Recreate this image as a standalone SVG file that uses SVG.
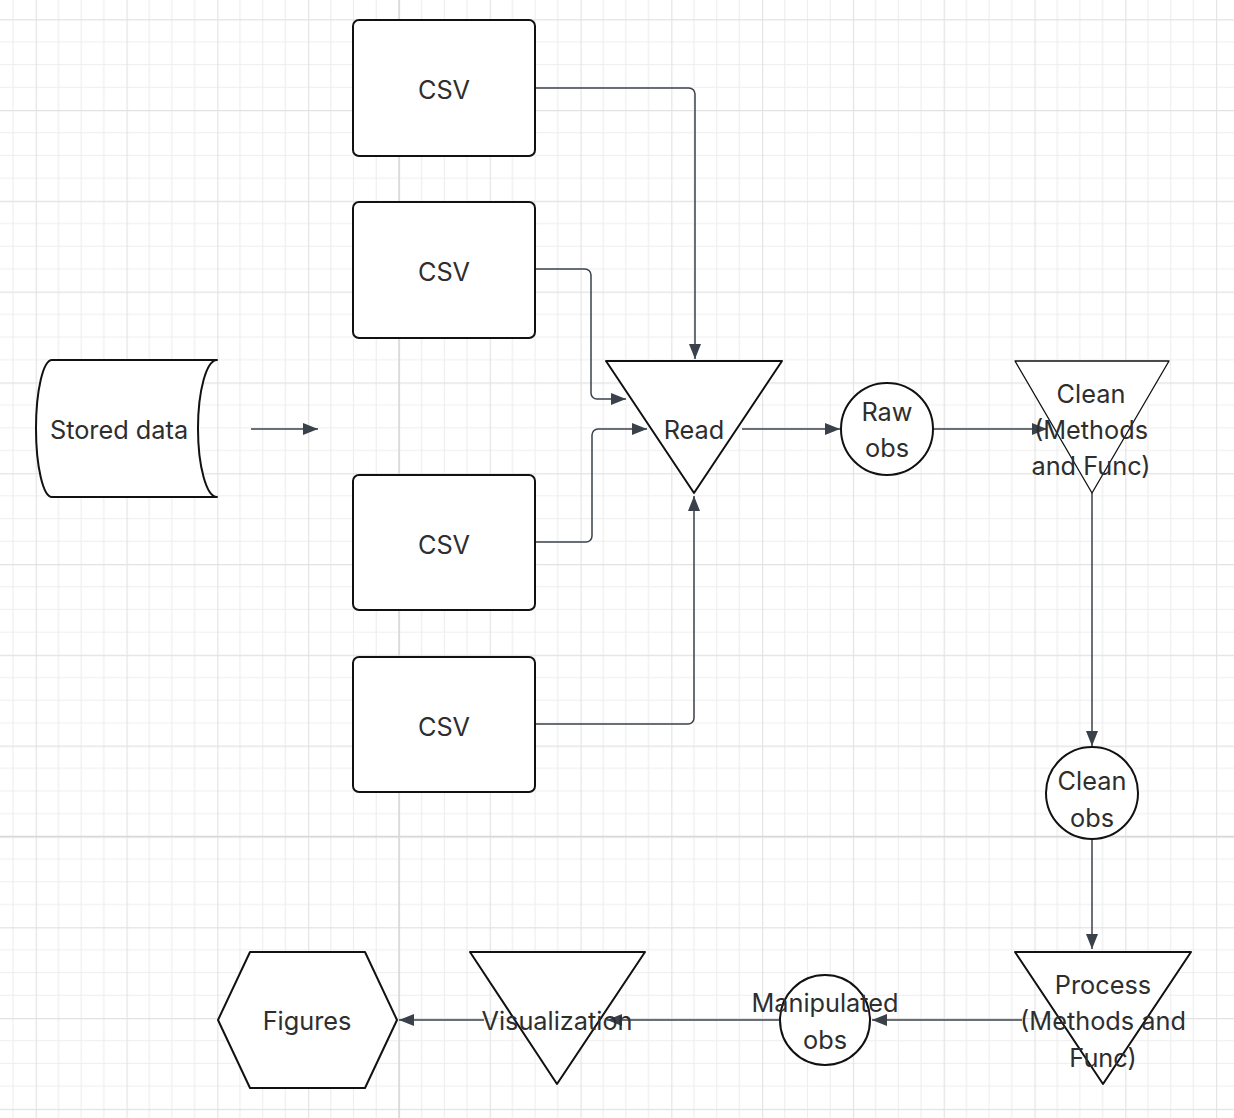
<svg xmlns="http://www.w3.org/2000/svg" width="1234" height="1118" viewBox="0 0 1234 1118">
<style>
.lbl{font-family:Inter,"Liberation Sans",sans-serif;font-size:25.3px;fill:#2e2e2e;text-anchor:middle;dominant-baseline:central}
.shp{fill:#ffffff;stroke:#111111;stroke-width:2;stroke-linejoin:round}
.thin{stroke-width:1.3}
.con{fill:none;stroke:#3a414a;stroke-width:1.5;stroke-linejoin:round}
</style>
<defs>
<pattern id="grid" patternUnits="userSpaceOnUse" x="35.7" y="19.2" width="90.8" height="90.8">
<path d="M22.7,0V90.8M45.4,0V90.8M68.1,0V90.8M0,22.7H90.8M0,45.4H90.8M0,68.1H90.8" stroke="#eeeeee" stroke-width="1.2" fill="none"/>
<path d="M0.5,0V90.8M0,0.5H90.8" stroke="#e2e2e2" stroke-width="1.3" fill="none"/>
</pattern>
<marker id="ah" markerUnits="userSpaceOnUse" markerWidth="16" markerHeight="14" refX="15" refY="7" orient="auto">
<path d="M0,1 L15,7 L0,13 z" fill="#3a414a"/>
</marker>
</defs>
<rect width="1234" height="1118" fill="#ffffff"/>
<rect width="1234" height="1118" fill="url(#grid)"/>
<path d="M399,0V1118M0,836.4H1234" stroke="#d8d8d8" stroke-width="1.5" fill="none"/>

<g id="connectors">
<path class="con" d="M251,429H318" marker-end="url(#ah)"/>
<path class="con" d="M535,88H689a6,6 0 0 1 6,6V359" marker-end="url(#ah)"/>
<path class="con" d="M535,269H585a6,6 0 0 1 6,6V393a6,6 0 0 0 6,6H626" marker-end="url(#ah)"/>
<path class="con" d="M535,542H586a6,6 0 0 0 6,-6V435a6,6 0 0 1 6,-6H647" marker-end="url(#ah)"/>
<path class="con" d="M535,724H688a6,6 0 0 0 6,-6V496" marker-end="url(#ah)"/>
<path class="con" d="M742,429H840" marker-end="url(#ah)"/>
<path class="con" d="M933,429H1047" marker-end="url(#ah)"/>
<path class="con" d="M1092,493V746" marker-end="url(#ah)"/>
<path class="con" d="M1092,839V949" marker-end="url(#ah)"/>
<path class="con" d="M1022,1020H872" marker-end="url(#ah)"/>
<path class="con" d="M780,1020H607" marker-end="url(#ah)"/>
<path class="con" d="M484,1020H399" marker-end="url(#ah)"/>
</g>

<g id="stored-data">
<path class="shp" d="M217,360H52A16,68.5 0 0 0 52,497H217A19,68.5 0 0 1 217,360Z" stroke-linejoin="miter"/>
<text class="lbl" x="119" y="429">Stored data</text>
</g>

<g id="csv-1">
<rect class="shp" x="353" y="20" width="182" height="136" rx="6"/>
<text class="lbl" x="444" y="89">CSV</text>
</g>
<g id="csv-2">
<rect class="shp" x="353" y="202" width="182" height="136" rx="6"/>
<text class="lbl" x="444" y="271">CSV</text>
</g>
<g id="csv-3">
<rect class="shp" x="353" y="475" width="182" height="135" rx="6"/>
<text class="lbl" x="444" y="544">CSV</text>
</g>
<g id="csv-4">
<rect class="shp" x="353" y="657" width="182" height="135" rx="6"/>
<text class="lbl" x="444" y="726">CSV</text>
</g>

<g id="read">
<polygon class="shp" points="606,361 782,361 694,493"/>
<text class="lbl" x="694" y="429">Read</text>
</g>

<g id="raw-obs">
<circle class="shp" cx="887" cy="429" r="46"/>
<text class="lbl" x="887" y="411">Raw</text>
<text class="lbl" x="887" y="447">obs</text>
</g>

<g id="clean">
<polygon class="shp thin" points="1015,361 1169,361 1092,493"/>
<text class="lbl" x="1091" y="393">Clean</text>
<text class="lbl" x="1091" y="429">(Methods</text>
<text class="lbl" x="1091" y="465">and Func)</text>
</g>

<g id="clean-obs">
<circle class="shp" cx="1092" cy="793" r="46"/>
<text class="lbl" x="1092" y="780">Clean</text>
<text class="lbl" x="1092" y="817">obs</text>
</g>

<g id="process">
<polygon class="shp" points="1015,952 1191,952 1103,1084"/>
<text class="lbl" x="1103" y="984">Process</text>
<text class="lbl" x="1103" y="1020">(Methods and</text>
<text class="lbl" x="1103" y="1057">Func)</text>
</g>

<g id="manipulated-obs">
<circle class="shp" cx="825" cy="1020" r="45"/>
<text class="lbl" x="825" y="1002">Manipulated</text>
<text class="lbl" x="825" y="1039">obs</text>
</g>

<g id="visualization">
<polygon class="shp" points="470,952 645,952 557,1084"/>
<text class="lbl" x="557" y="1020">Visualization</text>
</g>

<g id="figures">
<polygon class="shp" points="218,1020 250,952 365,952 397,1020 365,1088 250,1088"/>
<text class="lbl" x="307" y="1020">Figures</text>
</g>
</svg>
